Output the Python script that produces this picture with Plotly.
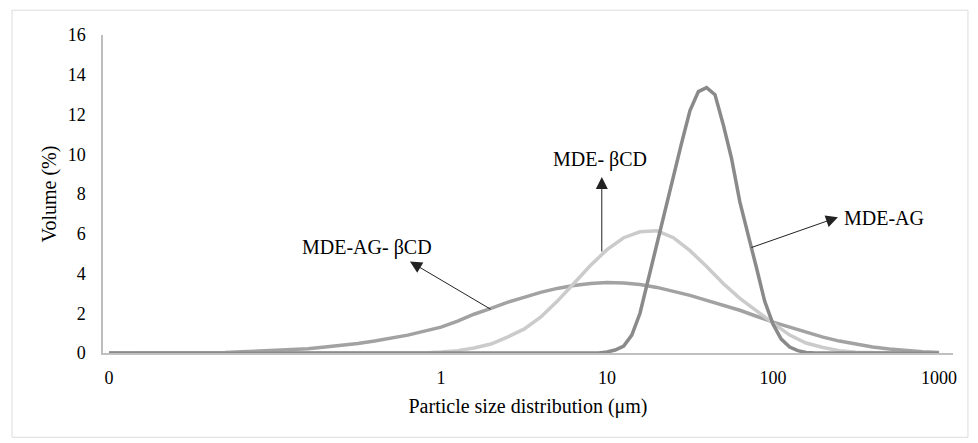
import plotly.graph_objects as go
import math

# ---- data ----
size_grid = [0.01, 0.0126, 0.0158, 0.02, 0.0251, 0.0316, 0.0398, 0.0501, 0.0631, 0.0794,
             0.1, 0.126, 0.158, 0.2, 0.251, 0.316, 0.398, 0.501, 0.631, 0.794,
             1.0, 1.26, 1.58, 2.0, 2.51, 3.16, 3.98, 5.01, 6.31, 7.94,
             10.0, 12.6, 15.8, 20.0, 25.1, 31.6, 39.8, 50.1, 63.1, 79.4,
             100, 126, 158, 200, 251, 316, 398, 501, 631, 794, 1000]

mde_bcd = [0, 0, 0, 0, 0, 0, 0, 0, 0, 0,
           0, 0, 0, 0, 0, 0, 0, 0, 0, 0,
           0.05, 0.12, 0.25, 0.45, 0.8, 1.2, 1.8, 2.6, 3.5, 4.4,
           5.2, 5.8, 6.1, 6.15, 5.8, 5.15, 4.35, 3.5, 2.75, 2.1,
           1.5, 0.9, 0.5, 0.28, 0.12, 0.04, 0, 0, 0, 0, 0]

mde_ag_bcd = [0, 0, 0, 0, 0, 0, 0, 0.03, 0.06, 0.09,
              0.13, 0.17, 0.22, 0.3, 0.38, 0.48, 0.6, 0.75, 0.9, 1.1,
              1.3, 1.6, 1.95, 2.25, 2.55, 2.8, 3.05, 3.25, 3.4, 3.5,
              3.55, 3.52, 3.45, 3.3, 3.1, 2.9, 2.65, 2.4, 2.15, 1.85,
              1.55, 1.3, 1.05, 0.8, 0.6, 0.45, 0.3, 0.2, 0.12, 0.06, 0.02]

ag_size = [0.01, 8.91, 10.0, 11.2, 12.6, 14.1, 15.8, 17.8, 20.0, 22.4, 25.1, 28.2,
           31.6, 35.5, 39.8, 44.7, 50.1, 56.2, 63.1, 70.8, 79.4, 89.1, 100, 112,
           126, 141, 158, 178, 1000]
mde_ag = [0, 0, 0.05, 0.15, 0.35, 0.9, 2.0, 3.8, 5.4, 7.2, 8.9, 10.6,
          12.2, 13.15, 13.35, 13.0, 11.5, 9.8, 7.6, 6.0, 4.3, 2.6, 1.45, 0.7,
          0.3, 0.12, 0.03, 0, 0]

x_tickvals = [0.01, 1, 10, 100, 1000]
x_ticktext = ["0", "1", "10", "100", "1000"]
y_tickvals = [0, 2, 4, 6, 8, 10, 12, 14, 16]

FONT = "Liberation Serif"
TICKFONT = dict(family=FONT, size=18, color="black")

fig = go.Figure()
fig.add_trace(go.Scatter(x=size_grid, y=mde_ag_bcd, mode="lines", name="MDE-AG- βCD",
                         line=dict(color="#a2a2a2", width=3.5)))
fig.add_trace(go.Scatter(x=size_grid, y=mde_bcd, mode="lines", name="MDE- βCD",
                         line=dict(color="#cbcbcb", width=3.5)))
fig.add_trace(go.Scatter(x=ag_size, y=mde_ag, mode="lines", name="MDE-AG",
                         line=dict(color="#8a8a8a", width=3.5)))

L = math.log10
arrow_style = dict(showarrow=True, arrowhead=2, arrowsize=2.4, arrowwidth=1,
                   arrowcolor="#222222", axref="x", ayref="y", text="",
                   standoff=0, startstandoff=0)
annotations = [
    # MDE- βCD
    dict(x=L(9.3), y=8.85, ax=L(9.3), ay=5.03, **arrow_style),
    dict(x=L(9.1), y=9.75, text="MDE- βCD", showarrow=False,
         font=dict(family=FONT, size=20, color="black")),
    # MDE-AG- βCD
    dict(x=L(0.65), y=4.6, ax=L(2.03), ay=2.16, **arrow_style),
    dict(x=L(0.358), y=5.3, text="MDE-AG- βCD", showarrow=False,
         font=dict(family=FONT, size=20, color="black")),
    # MDE-AG
    dict(x=L(246), y=6.83, ax=L(72.6), ay=5.28, **arrow_style),
    dict(x=L(262), y=6.8, text="MDE-AG", showarrow=False, xanchor="left",
         font=dict(family=FONT, size=20, color="black")),
]

fig.update_layout(
    width=978, height=443,
    margin=dict(l=95, r=33, t=27, b=98),
    paper_bgcolor="white", plot_bgcolor="white",
    showlegend=False,
    font=dict(family=FONT, size=18, color="black"),
    annotations=annotations,
    xaxis=dict(type="log", range=[-2.036, 3.084], tickvals=x_tickvals, ticktext=x_ticktext,
               tickfont=TICKFONT,
               showgrid=False, zeroline=False, showline=True, linecolor="#c0c0c0", linewidth=1.5,
               ticks="", ticklabelstandoff=8,
               title=dict(text="Particle size distribution (μm)",
                          font=dict(family=FONT, size=20, color="black"), standoff=12)),
    yaxis=dict(range=[0, 16], tickvals=y_tickvals, tickfont=TICKFONT,
               showgrid=False, zeroline=False,
               showline=True, linecolor="#bdbdbd", linewidth=1.5, ticks="", ticklabelstandoff=12,
               title=dict(text="Volume (%)", font=dict(family=FONT, size=20, color="black"),
                          standoff=6)),
    shapes=[dict(type="rect", xref="paper", yref="paper",
                 x0=-0.107, x1=1.0176, y0=-0.265, y1=1.078,
                 line=dict(color="#dcdcdc", width=1), fillcolor="rgba(0,0,0,0)", layer="below")],
)

fig.write_html("out.html")
